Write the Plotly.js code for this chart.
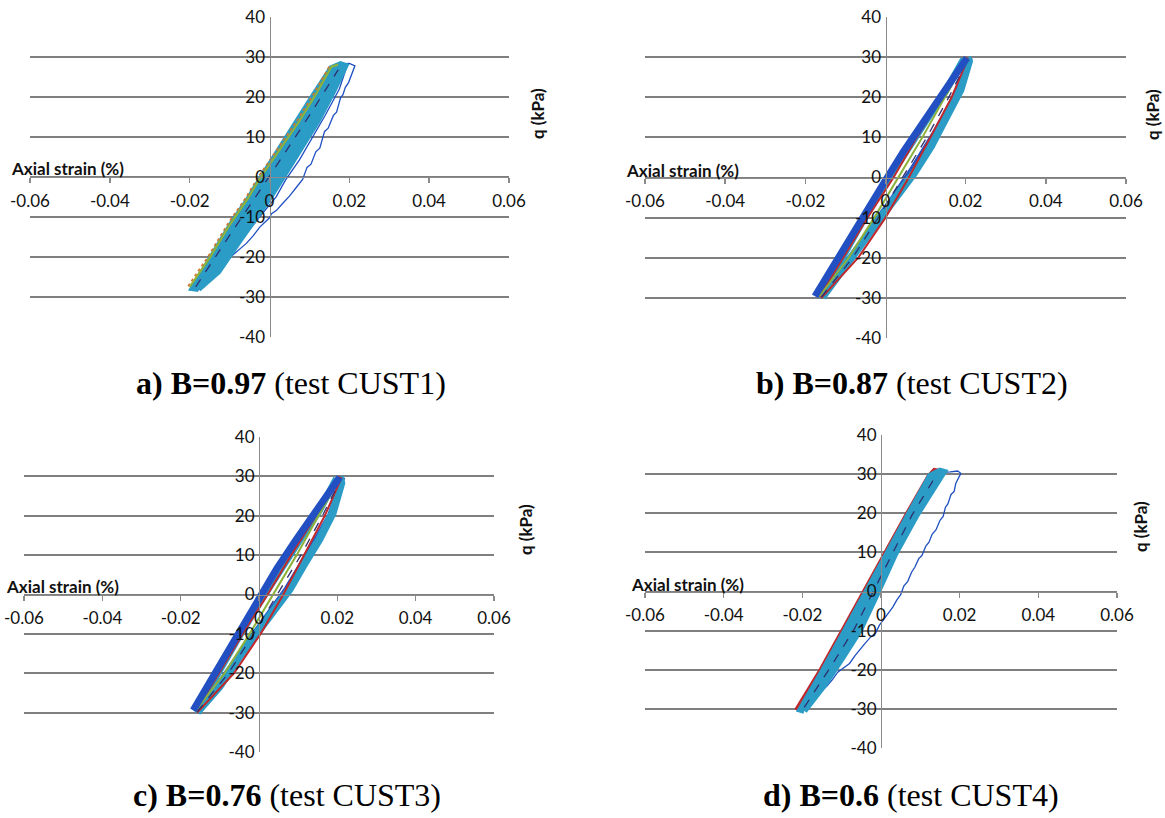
<!DOCTYPE html>
<html>
<head>
<meta charset="utf-8">
<script src="https://cdn.plot.ly/plotly-3.0.1.min.js"></script>
<style>
html,body{margin:0;padding:0;background:#fff;}
#chart{width:1165px;height:818px;}
</style>
</head>
<body>
<div id="chart"></div>
<script>
// ---------- tick labels ----------
const xTickVals = [-0.06, -0.04, -0.02, 0, 0.02, 0.04, 0.06];
const xTickText = ["-0.06", "-0.04", "-0.02", "0", "0.02", "0.04", "0.06"];
const yTickVals = [-40, -30, -20, -10, 0, 10, 20, 30, 40];
const yTickText = ["-40", "-30", "-20", "-10", "0", "10", "20", "30", "40"];

const xAxisTitle = "Axial strain (%)";
const yAxisTitle = "q (kPa)";
const captions = [
  "<b>a) B=0.97</b> (test CUST1)",
  "<b>b) B=0.87</b> (test CUST2)",
  "<b>c) B=0.76</b> (test CUST3)",
  "<b>d) B=0.6</b> (test CUST4)"
];

// ---------- panel a : CUST1 ----------
const a_blueX = [-0.0200,-0.0150,-0.0100,-0.0050,0.0000,0.0060,0.0110,0.0150,0.0175,0.0200,0.0214,0.0205,0.0198,0.0190,0.0184,0.0178,0.0168,0.0160,0.0147,0.0138,0.0126,0.0116,0.0104,0.0094,0.0083,0.0068,0.0050,0.0034,0.0017,0.0005,0.0000,-0.0025,-0.0040,-0.0058,-0.0080,-0.0100,-0.0112,-0.0125,-0.0138,-0.0150,-0.0165,-0.0178,-0.0200];
const a_blueY = [-28.3,-20.5,-12.5,-5.0,2.0,11.5,19.5,26.0,28.2,28.4,27.8,25.5,23.6,22.4,20.6,19.8,16.2,15.4,12.2,11.4,7.2,6.3,3.2,2.4,-0.6,-2.5,-4.8,-6.5,-8.4,-9.2,-10.2,-12.6,-14.6,-16.6,-18.6,-20.2,-21.6,-22.6,-24.4,-25.8,-27.4,-28.2,-28.3];
const a_blue2X = [0.0195,0.0175,0.0140,0.0108,0.0075,0.0040,0.0017,-0.0025,-0.0083,-0.0142,-0.0175];
const a_blue2Y = [28.0,22.0,15.5,10.1,4.3,-0.8,-4.9,-10.0,-17.5,-25.0,-28.2];
const a_redX = [-0.0185,-0.0165,-0.0120,-0.0070,-0.0020,0.0030,0.0080,0.0130,0.0175,0.0170,0.0120,0.0060,0.0000,-0.0060,-0.0120,-0.0185];
const a_redY = [-28.0,-27.5,-22.0,-14.5,-7.0,0.5,8.5,17.0,27.6,27.8,20.0,11.0,2.0,-7.0,-16.5,-28.0];
const a_greenX = [-0.0200,-0.0150,-0.0100,-0.0055,-0.0025,0.0025,0.0075,0.0117,0.0155,0.0172];
const a_greenY = [-27.5,-20.2,-12.0,-5.5,-0.5,6.6,14.0,20.8,27.6,28.1];
const a_orangeX = [-0.0204,-0.0154,-0.0104,-0.0059,-0.0029,0.0021,0.0071,0.0113,0.0151];
const a_orangeY = [-27.3,-19.9,-11.6,-5.1,-0.1,7.0,14.4,21.2,27.9];
const a_cyanX = [-0.0178,-0.0128,-0.0080,-0.0037,0.0003,0.0038,0.0080,0.0121,0.0160,0.0190,0.0178,0.0155,0.0113,0.0072,0.0023,-0.0020,-0.0053,-0.0093,-0.0143,-0.0192,-0.0178];
const a_cyanY = [-28.0,-23.6,-16.6,-10.6,-4.8,0.8,7.4,14.1,21.5,27.8,28.2,27.2,20.8,14.1,6.6,-0.2,-5.6,-11.4,-19.8,-27.8,-28.0];
const a_dashX = [-0.0185,-0.0100,0.0000,0.0100,0.0172];
const a_dashY = [-27.5,-14.6,0.2,15.4,26.8];

// ---------- panel b : CUST2 ----------
const b_blueUpX = [-0.0176,-0.0120,-0.0062,-0.0005,0.0045,0.0095,0.0140,0.0178,0.0203];
const b_blueUpY = [-29.6,-20.2,-10.5,-1.5,6.5,14.0,20.5,25.8,29.8];
const b_blueLoX = [-0.0165,-0.0100,-0.0040,0.0015,0.0062,0.0118,0.0172,0.0212];
const b_blueLoY = [-29.8,-21.5,-13.0,-5.5,1.5,10.5,20.0,29.8];
const b_cyanLoX = [-0.0158,-0.0111,-0.0070,-0.0028,-0.0003,0.0038,0.0071,0.0113,0.0154,0.0187,0.0208,0.0204];
const b_cyanLoY = [-29.8,-23.7,-17.9,-12.1,-8.8,-3.1,1.1,7.7,15.1,21.9,28.9,29.9];
const b_cyanUpX = [0.0195,0.0150,0.0100,0.0050,0.0000,-0.0055,-0.0105,-0.0150,-0.0170];
const b_cyanUpY = [29.5,21.5,14.0,6.5,-1.5,-10.5,-19.0,-27.5,-29.6];
const b_redX = [-0.0165,-0.0105,-0.0045,0.0020,0.0078,0.0138,0.0201,0.0205,0.0165,0.0112,0.0058,0.0000,-0.0068,-0.0160];
const b_redY = [-29.8,-20.0,-10.0,0.0,10.0,19.5,29.8,29.5,20.0,10.0,0.0,-10.0,-20.0,-30.0];
const b_greenX = [-0.0165,-0.0092,-0.0028,0.0032,0.0092,0.0148,0.0202];
const b_greenY = [-29.6,-20.0,-10.0,0.0,10.0,20.0,29.6];
const b_dashX = [-0.0160,-0.0082,-0.0018,0.0043,0.0103,0.0158,0.0206];
const b_dashY = [-29.8,-20.0,-10.0,0.0,10.0,20.0,29.5];

// ---------- panel c : CUST3 ----------
const c_blueUpX = [-0.0168,-0.0113,-0.0058,-0.0005,0.0045,0.0095,0.0140,0.0180,0.0206];
const c_blueUpY = [-29.4,-20.0,-10.6,-2.0,6.5,14.0,20.3,25.8,29.8];
const c_blueLoX = [-0.0160,-0.0095,-0.0035,0.0020,0.0070,0.0125,0.0180,0.0214];
const c_blueLoY = [-29.8,-21.5,-13.0,-5.5,1.5,10.5,20.0,29.8];
const c_cyanLoX = [-0.0158,-0.0101,-0.0050,-0.0007,0.0035,0.0078,0.0112,0.0154,0.0188,0.0210,0.0206];
const c_cyanLoY = [-29.9,-23.4,-15.7,-9.8,-4.7,1.3,7.2,14.0,20.7,28.3,30.0];
const c_cyanUpX = [0.0198,0.0155,0.0105,0.0055,0.0005,-0.0050,-0.0100,-0.0148,-0.0166];
const c_cyanUpY = [29.5,21.5,14.0,6.5,-1.5,-10.5,-19.0,-27.5,-29.6];
const c_redX = [-0.0162,-0.0102,-0.0042,0.0022,0.0082,0.0142,0.0204,0.0210,0.0168,0.0116,0.0062,0.0004,-0.0064,-0.0158];
const c_redY = [-29.6,-20.0,-10.0,0.0,10.0,19.5,29.8,29.5,20.0,10.0,0.0,-10.0,-20.0,-30.0];
const c_greenX = [-0.0163,-0.0088,-0.0024,0.0036,0.0096,0.0152,0.0205];
const c_greenY = [-29.6,-20.0,-10.0,0.0,10.0,20.0,29.4];
const c_dashX = [-0.0158,-0.0078,-0.0014,0.0047,0.0107,0.0162,0.0210];
const c_dashY = [-29.8,-20.0,-10.0,0.0,10.0,20.0,29.6];

// ---------- panel d : CUST4 ----------
const d_blueX = [-0.0212,-0.0150,-0.0095,-0.0040,0.0015,0.0070,0.0120,0.0150,0.0176,0.0195,0.0203,0.0196,0.0190,0.0186,0.0178,0.0170,0.0164,0.0158,0.0150,0.0140,0.0130,0.0122,0.0114,0.0104,0.0096,0.0086,0.0078,0.0068,0.0058,0.0050,0.0040,0.0030,0.0018,0.0008,-0.0004,-0.0014,-0.0026,-0.0040,-0.0052,-0.0066,-0.0080,-0.0094,-0.0110,-0.0124,-0.0138,-0.0152,-0.0166,-0.0180,-0.0196,-0.0212];
const d_blueY = [-30.2,-20.0,-10.0,0.0,10.0,20.0,28.5,30.4,30.6,30.8,30.2,28.6,27.6,25.6,24.8,22.4,21.6,19.2,18.2,15.8,14.6,12.6,11.6,9.2,8.4,6.2,5.0,2.6,1.4,-0.8,-2.2,-4.0,-5.6,-7.2,-8.6,-10.6,-11.6,-13.2,-14.6,-16.4,-18.4,-19.4,-20.6,-22.6,-24.2,-25.4,-27.0,-28.0,-29.4,-30.2];
const d_redX = [-0.0217,-0.0155,-0.0100,-0.0045,0.0010,0.0065,0.0120,0.0135,0.0147];
const d_redY = [-30.2,-20.0,-10.0,0.0,10.0,20.0,29.6,31.2,31.0];
const d_greenX = [-0.0208,-0.0148,-0.0093,-0.0038,0.0017,0.0072,0.0125];
const d_greenY = [-30.4,-20.4,-10.4,-0.4,9.6,19.6,29.2];
const d_cyanX = [-0.0195,-0.0145,-0.0100,-0.0054,-0.0012,0.0036,0.0091,0.0135,0.0160,0.0150,0.0125,0.0070,0.0018,-0.0038,-0.0092,-0.0147,-0.0205,-0.0195];
const d_cyanY = [-30.5,-24.0,-17.2,-10.0,-1.0,9.6,19.6,27.0,30.6,30.9,29.6,19.6,9.8,-0.2,-10.2,-20.2,-30.2,-30.5];
const d_dashX = [-0.0195,-0.0125,-0.0068,-0.0020,0.0028,0.0078,0.0135];
const d_dashY = [-29.6,-18.8,-9.6,0.0,9.6,19.4,28.8];

// ---------- styling ----------
const C = {
  blue: "#1f4fc2", blueDense: "#2250c2", red: "#c0282b", green: "#8db13a",
  orange: "#d2772c", cyan: "#2b9cc6", dash: "#2e2f6e",
  grid: "#7f7f7f", axis: "#8a8a8a", text: "#111111"
};
const PW = 1165, PH = 818;
// plot boxes in pixels: [left, top, right, bottom]
const boxes = [[30,17,509,337],[645,17,1126,338],[24,437,494,752],[645,435,1117,748]];
const xTitlePos = [[9,168],[624,170],[4,586],[629,584]];
const yTitlePos = [[537,114],[1153,115],[525,530],[1140,527]];
const capPos = [[291,383],[912,383],[287,795],[911,795]];

const traces = [];
function line(x, y, k, color, width, extra) {
  const t = Object.assign({type: "scatter", mode: "lines", x: x, y: y,
    xaxis: "x" + (k === 0 ? "" : k + 1), yaxis: "y" + (k === 0 ? "" : k + 1),
    line: {color: color, width: width}, hoverinfo: "skip", showlegend: false}, extra || {});
  traces.push(t);
}
const dashed = {line: {color: C.dash, width: 1.3, dash: "dash"}};
// panel a
line(a_blueX, a_blueY, 0, C.blue, 1.3);
line(a_blue2X, a_blue2Y, 0, C.blue, 1.3);
line(a_redX, a_redY, 0, C.red, 1.8);
line(a_cyanX, a_cyanY, 0, C.cyan, 6, {fill: "toself", fillcolor: C.cyan});
line(a_greenX, a_greenY, 0, C.green, 2.2);
line(a_orangeX, a_orangeY, 0, C.orange, 1.6, {line: {color: C.orange, width: 1.6, dash: "dot"}});
line(a_dashX, a_dashY, 0, C.dash, 1.3, dashed);
// panel b
line(b_blueLoX, b_blueLoY, 1, C.blueDense, 5);
line(b_cyanUpX, b_cyanUpY, 1, C.cyan, 7);
line(b_cyanLoX, b_cyanLoY, 1, C.cyan, 8);
line(b_redX, b_redY, 1, C.red, 2);
line(b_greenX, b_greenY, 1, C.green, 2);
line(b_dashX, b_dashY, 1, C.dash, 1.3, dashed);
line(b_blueUpX, b_blueUpY, 1, C.blueDense, 7);
// panel c
line(c_blueLoX, c_blueLoY, 2, C.blueDense, 5);
line(c_cyanUpX, c_cyanUpY, 2, C.cyan, 7);
line(c_cyanLoX, c_cyanLoY, 2, C.cyan, 8);
line(c_redX, c_redY, 2, C.red, 2);
line(c_greenX, c_greenY, 2, C.green, 2);
line(c_dashX, c_dashY, 2, C.dash, 1.3, dashed);
line(c_blueUpX, c_blueUpY, 2, C.blueDense, 7);
// panel d
line(d_blueX, d_blueY, 3, C.blue, 1.3);
line(d_redX, d_redY, 3, C.red, 3);
line(d_greenX, d_greenY, 3, C.green, 2);
line(d_cyanX, d_cyanY, 3, C.cyan, 6, {fill: "toself", fillcolor: C.cyan});
line(d_dashX, d_dashY, 3, C.dash, 1.3, dashed);

const tickFont = {family: "Lato, 'Open Sans', sans-serif", size: 17, color: C.text};
const titleFont = {family: "Lato, 'Open Sans', sans-serif", size: 17, color: C.text};
const layout = {
  width: PW, height: PH, margin: {l: 0, r: 0, t: 0, b: 0},
  paper_bgcolor: "#ffffff", plot_bgcolor: "rgba(0,0,0,0)",
  showlegend: false, hovermode: false, annotations: []
};
boxes.forEach((b, k) => {
  const s = k === 0 ? "" : String(k + 1);
  const xd = [b[0] / PW, b[2] / PW], yd = [1 - b[3] / PH, 1 - b[1] / PH];
  layout["xaxis" + s] = {
    domain: xd, range: [-0.06, 0.06], anchor: "free", position: (yd[0] + yd[1]) / 2,
    showgrid: false, zeroline: false, showline: true, linecolor: C.axis, linewidth: 1.4,
    ticks: "outside", ticklen: 5, tickwidth: 1.4, tickcolor: C.axis,
    tickvals: xTickVals, ticktext: xTickText, tickfont: tickFont, ticklabelstandoff: 3,
    fixedrange: true
  };
  layout["yaxis" + s] = {
    domain: yd, range: [-40, 40], anchor: "free", position: (xd[0] + xd[1]) / 2,
    showgrid: true, gridcolor: C.grid, gridwidth: 1.8, zeroline: false,
    showline: true, linecolor: C.axis, linewidth: 1.4, ticks: "",
    tickvals: yTickVals, ticktext: yTickText, tickfont: tickFont, ticklabelstandoff: 1,
    fixedrange: true
  };
  layout.annotations.push({
    text: "<b>" + xAxisTitle + "</b>", xref: "paper", yref: "paper",
    x: xTitlePos[k][0] / PW, y: 1 - xTitlePos[k][1] / PH, xanchor: "left", yanchor: "middle",
    showarrow: false, font: titleFont
  });
  layout.annotations.push({
    text: "<b>" + yAxisTitle + "</b>", xref: "paper", yref: "paper", textangle: -90,
    x: yTitlePos[k][0] / PW, y: 1 - yTitlePos[k][1] / PH, xanchor: "center", yanchor: "middle",
    showarrow: false, font: titleFont
  });
  layout.annotations.push({
    text: captions[k], xref: "paper", yref: "paper",
    x: capPos[k][0] / PW, y: 1 - capPos[k][1] / PH, xanchor: "center", yanchor: "middle",
    showarrow: false, font: {family: "'Liberation Serif', 'Times New Roman', serif", size: 32, color: "#000"}
  });
});

Plotly.newPlot("chart", traces, layout, {staticPlot: true, displayModeBar: false});
</script>
</body>
</html>
